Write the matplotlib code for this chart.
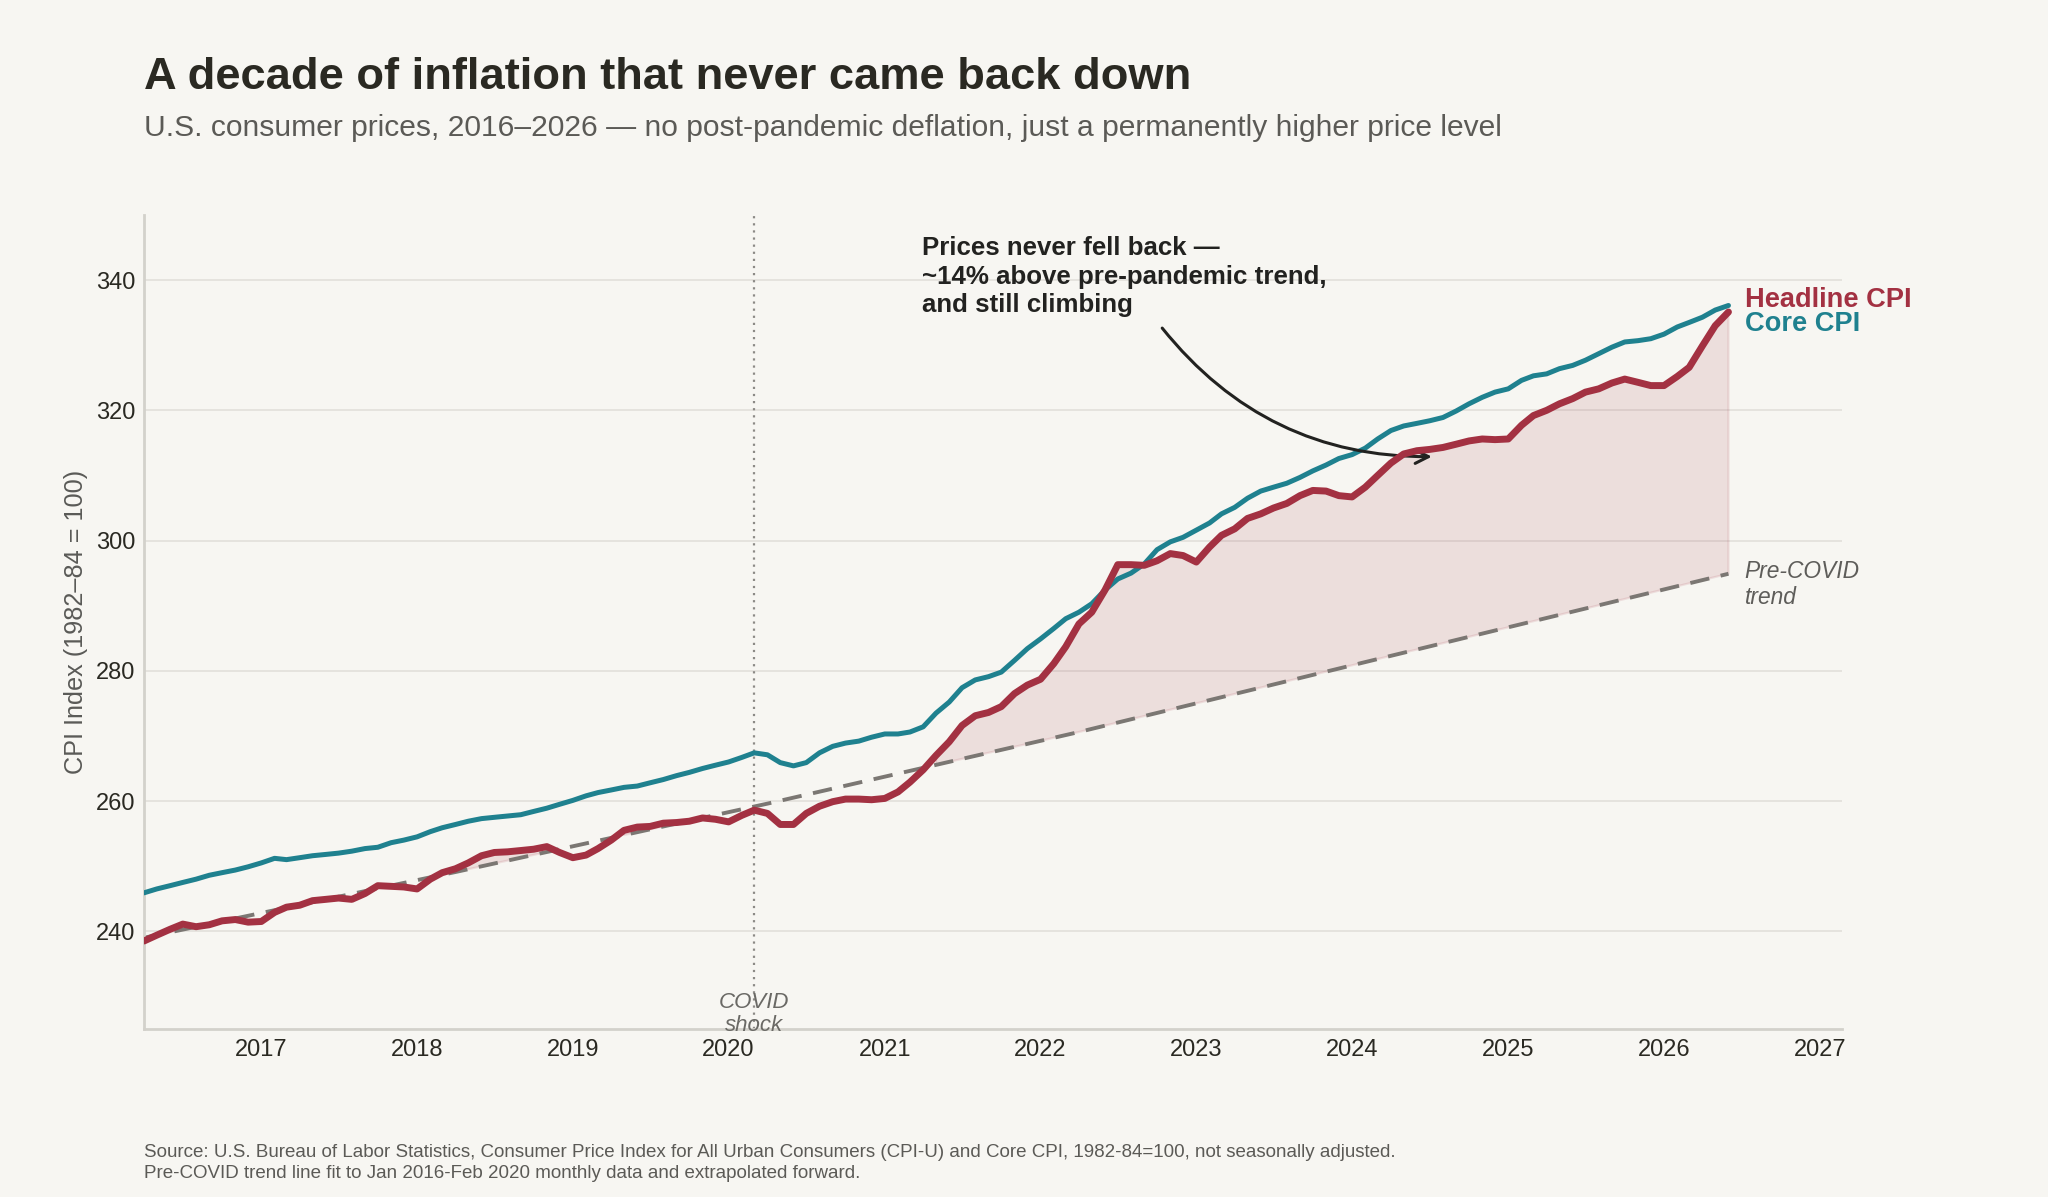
import matplotlib
matplotlib.use("Agg")
import matplotlib.pyplot as plt
import matplotlib.dates as mdates
import numpy as np
import pandas as pd

plt.rcParams['font.family'] = ['Liberation Sans', 'DejaVu Sans']

# ---------------- data ----------------
start_month = "2016-04-01"
headline_cpi = [
    238.5, 239.4, 240.3, 241.1, 240.7, 241.0, 241.6, 241.8, 241.4, 241.5,
    242.9, 243.7, 244.0, 244.7, 244.9, 245.1, 244.9, 245.8, 247.0, 246.9,
    246.8, 246.5, 248.0, 249.0, 249.6, 250.5, 251.6, 252.1, 252.2, 252.4,
    252.6, 253.0, 252.1, 251.3, 251.7, 252.7, 254.0, 255.5, 256.0, 256.1,
    256.6, 256.7, 256.9, 257.4, 257.2, 256.8, 257.8, 258.6, 258.1, 256.4,
    256.4, 258.1, 259.2, 259.9, 260.3, 260.3, 260.2, 260.4, 261.4, 262.9,
    264.8, 267.0, 269.1, 271.6, 273.1, 273.6, 274.5, 276.5, 277.8, 278.7,
    281.1, 283.7, 287.2, 289.0, 292.4, 296.3, 296.3, 296.2, 296.9, 298.0,
    297.7, 296.7, 299.0, 300.8, 301.8, 303.4, 304.1, 305.0, 305.7, 306.9,
    307.7, 307.6, 306.9, 306.7, 308.2, 310.0, 311.9, 313.3, 313.8, 314.0,
    314.3, 314.8, 315.3, 315.6, 315.5, 315.6, 317.7, 319.2, 320.0, 321.0,
    321.8, 322.8, 323.3, 324.2, 324.8, 324.3, 323.8, 323.8, 325.2, 326.6,
    329.9, 333.0, 335.1,
]
core_cpi = [
    245.9, 246.5, 247.0, 247.5, 248.0, 248.6, 249.0, 249.4, 249.9, 250.5,
    251.2, 251.0, 251.3, 251.6, 251.8, 252.0, 252.3, 252.7, 252.9, 253.6,
    254.0, 254.5, 255.3, 255.9, 256.4, 256.9, 257.3, 257.5, 257.7, 257.9,
    258.4, 258.9, 259.5, 260.1, 260.8, 261.3, 261.7, 262.1, 262.3, 262.8,
    263.3, 263.9, 264.4, 265.0, 265.5, 266.0, 266.7, 267.4, 267.1, 265.9,
    265.4, 265.9, 267.4, 268.4, 268.9, 269.2, 269.8, 270.3, 270.3, 270.6,
    271.4, 273.5, 275.2, 277.4, 278.6, 279.1, 279.8, 281.6, 283.4, 284.9,
    286.5, 288.0, 289.0, 290.3, 292.4, 294.1, 295.0, 296.4, 298.6, 299.8,
    300.5, 301.6, 302.7, 304.1, 305.1, 306.5, 307.6, 308.2, 308.8, 309.7,
    310.7, 311.6, 312.6, 313.2, 314.2, 315.6, 316.9, 317.6, 318.0, 318.4,
    318.9, 319.9, 321.0, 322.0, 322.8, 323.3, 324.6, 325.3, 325.6, 326.4,
    326.9, 327.7, 328.7, 329.7, 330.5, 330.7, 331.0, 331.7, 332.8, 333.5,
    334.3, 335.4, 336.1,
]
trend_dates = ["2016-04-01", "2018-04-01", "2020-04-01", "2022-04-01", "2024-04-01", "2026-06-01"]
trend_values = [239.0, 249.1, 259.6, 270.6, 282.3, 294.9]
year_ticks = list(range(2017, 2028))
y_ticks = [240, 260, 280, 300, 320, 340]
covid_date = "2020-03-01"

# ---------------- styling ----------------
BG = "#f7f6f2"
RED = "#a33142"
TEAL = "#1f818f"
GRAY = "#7b7773"
DARK = "#2a2922"

dates = pd.date_range(start_month, periods=len(headline_cpi), freq="MS")
head = np.array(headline_cpi)
core = np.array(core_cpi)
tdates = pd.to_datetime(trend_dates)
xnum = mdates.date2num(dates)
trend_m = np.interp(xnum, mdates.date2num(tdates), trend_values)

fig = plt.figure(figsize=(10.24, 5.985), dpi=200, facecolor=BG)
ax = fig.add_axes([0.0703, 0.1404, 0.8291, 0.6800])
ax.set_facecolor(BG)

ax.fill_between(dates, trend_m, head, where=head >= trend_m, color=RED,
                alpha=0.12, linewidth=0.8, zorder=1)
ax.plot(tdates, trend_values, color=GRAY, lw=1.4, dashes=(5, 3), zorder=2)
ax.plot(dates, core, color=TEAL, lw=1.8, zorder=3, solid_capstyle='round')
ax.plot(dates, head, color=RED, lw=2.5, zorder=4, solid_capstyle='round')

ax.axvline(pd.Timestamp(covid_date), color="#8c8a86", lw=0.8, ls=(0, (1, 2.2)), zorder=1.5)

ax.set_ylim(225, 350)
ax.set_xlim(pd.Timestamp("2016-04-01"), pd.Timestamp("2027-02-22"))
ax.set_yticks(y_ticks)
ax.set_xticks([pd.Timestamp(f"{y}-01-01") for y in year_ticks])
ax.set_xticklabels([str(y) for y in year_ticks])
ax.tick_params(axis='both', length=0, labelsize=8.5, labelcolor=DARK)
ax.tick_params(axis='x', pad=3.5)
ax.tick_params(axis='y', pad=3)
ax.grid(axis='y', color="#e2e0db", lw=0.6)
ax.set_axisbelow(True)
for s in ['top', 'right']:
    ax.spines[s].set_visible(False)
for s in ['left', 'bottom']:
    ax.spines[s].set_color("#d3d1cb")
    ax.spines[s].set_linewidth(1.0)

ax.set_ylabel("CPI Index (1982–84 = 100)", fontsize=9.1, color="#5a5a57")
ax.yaxis.set_label_coords(-0.033, 0.5)

# end labels
ax.text(pd.Timestamp("2026-07-09"), 337.0, "Headline CPI", color=RED, fontsize=9.8,
        weight='bold', va='center', ha='left', clip_on=False)
ax.text(pd.Timestamp("2026-07-09"), 333.2, "Core CPI", color=TEAL, fontsize=9.8,
        weight='bold', va='center', ha='left', clip_on=False)
ax.text(pd.Timestamp("2026-07-09"), 293.2, "Pre-COVID\ntrend", color="#5e5d5a", fontsize=8.2,
        style='italic', va='center', ha='left', linespacing=1.15, clip_on=False)
ax.text(pd.Timestamp(covid_date), 227.3, "COVID\nshock", color="#6a6965", fontsize=8.0,
        style='italic', va='center', ha='center', linespacing=1.08, clip_on=False)

# annotation
ax.text(pd.Timestamp("2021-03-29"), 346.8,
        "Prices never fell back —\n~14% above pre-pandemic trend,\nand still climbing",
        fontsize=9.3, weight='bold', color="#222220", va='top', ha='left', linespacing=1.25)
ax.annotate("", xy=(pd.Timestamp("2024-07-19"), 312.9), xytext=(pd.Timestamp("2022-10-05"), 333.3),
            arrowprops=dict(arrowstyle='->', connectionstyle='arc3,rad=0.25', lw=1.1,
                            color="#222220", mutation_scale=12))

# titles
fig.text(0.0703, 0.9258, "A decade of inflation that never came back down", fontsize=16.3,
         weight='bold', color=DARK, va='baseline', ha='left')
fig.text(0.0703, 0.8865,
         "U.S. consumer prices, 2016–2026 — no post-pandemic deflation, just a permanently higher price level",
         fontsize=10.8, color="#5b5a56", va='baseline', ha='left')
fig.text(0.0703, 0.0334,
         "Source: U.S. Bureau of Labor Statistics, Consumer Price Index for All Urban Consumers (CPI-U) and Core CPI, 1982-84=100, not seasonally adjusted.",
         fontsize=6.78, color="#5b5a56", va='baseline', ha='left')
fig.text(0.0703, 0.0158,
         "Pre-COVID trend line fit to Jan 2016-Feb 2020 monthly data and extrapolated forward.",
         fontsize=6.78, color="#5b5a56", va='baseline', ha='left')

fig.savefig("out.png", dpi=200, facecolor=BG)
